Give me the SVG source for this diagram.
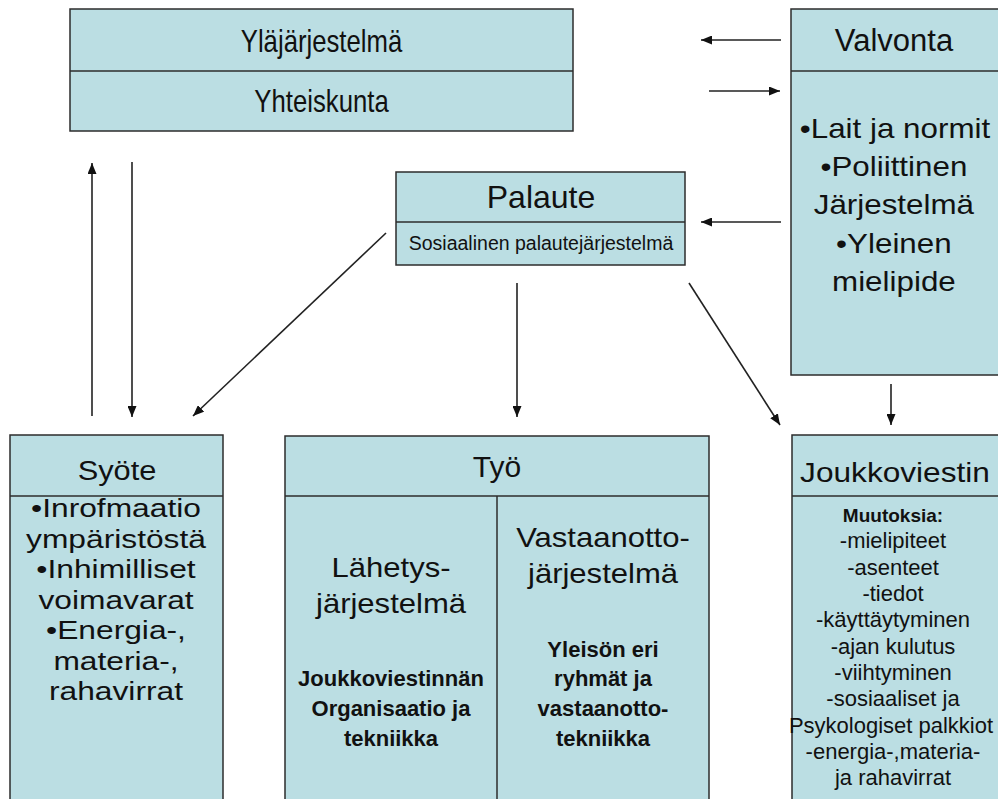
<svg xmlns="http://www.w3.org/2000/svg" width="998" height="799" viewBox="0 0 998 799">
<defs>
<style>
.box{fill:#BBDEE3;stroke:#2d2d2d;stroke-width:1.5}
.div{stroke:#2d2d2d;stroke-width:1.5;fill:none}
text{font-family:"Liberation Sans",Arial,sans-serif;fill:#111;text-anchor:middle}
.b{font-weight:bold}
.conn line{stroke:#222;stroke-width:1.6;marker-end:url(#ah)}
</style>
<marker id="ah" viewBox="0 0 11 9" refX="11" refY="4.5" markerWidth="11" markerHeight="9" markerUnits="userSpaceOnUse" orient="auto">
<path d="M0,0 L11,4.5 L0,9 z" fill="#111"/>
</marker>
</defs>
<rect width="998" height="799" fill="#ffffff"/>

<g id="ylajarjestelma">
<rect class="box" x="70" y="9" width="503" height="122"/>
<line class="div" x1="70" y1="71" x2="573" y2="71"/>
<g transform="translate(321.5,0) scale(0.83,1)" font-size="31">
<text x="0" y="52">Yläjärjestelmä</text>
<text x="0" y="112">Yhteiskunta</text>
</g>
</g>

<g id="valvonta">
<rect class="box" x="791" y="9" width="212" height="366"/>
<line class="div" x1="791" y1="71" x2="1003" y2="71"/>
<text x="894" y="51" font-size="31">Valvonta</text>
<g transform="translate(895,0) scale(1.12,1)" font-size="28">
<text x="0" y="138">•Lait ja normit</text>
<text x="-1" y="176">•Poliittinen</text>
<text x="-1" y="214">Järjestelmä</text>
<text x="-1" y="253">•Yleinen</text>
<text x="-1" y="291">mielipide</text>
</g>
</g>

<g id="palaute">
<rect class="box" x="396" y="172" width="289" height="93"/>
<line class="div" x1="396" y1="222" x2="685" y2="222"/>
<text x="541" y="208" font-size="32">Palaute</text>
<text x="541" y="250" font-size="19.5">Sosiaalinen palautejärjestelmä</text>
</g>

<g id="syote">
<rect class="box" x="10" y="435" width="213" height="380"/>
<line class="div" x1="10" y1="496" x2="223" y2="496"/>
<text transform="translate(117,480) scale(1.1,1)" x="0" y="0" font-size="28">Syöte</text>
<g transform="translate(116,0) scale(1.27,1)" font-size="25">
<text x="0" y="517">•Inrofmaatio</text>
<text x="0" y="548">ympäristöstä</text>
<text x="0" y="578">•Inhimilliset</text>
<text x="0" y="609">voimavarat</text>
<text x="0" y="639">•Energia-,</text>
<text x="0" y="670">materia-,</text>
<text x="0" y="700">rahavirrat</text>
</g>
</g>

<g id="tyo">
<rect class="box" x="285" y="436" width="424" height="380"/>
<line class="div" x1="285" y1="496" x2="709" y2="496"/>
<line class="div" x1="497" y1="496" x2="497" y2="816"/>
<text x="497" y="477" font-size="30">Työ</text>
<g transform="translate(391,0) scale(1.15,1)" font-size="27">
<text x="0" y="577">Lähetys-</text>
<text x="0" y="613">järjestelmä</text>
</g>
<g transform="translate(603,0) scale(1.15,1)" font-size="27">
<text x="0" y="547">Vastaanotto-</text>
<text x="0" y="583">järjestelmä</text>
</g>
<g class="b" font-size="22">
<text x="391" y="686">Joukkoviestinnän</text>
<text x="391" y="716">Organisaatio ja</text>
<text x="391" y="746">tekniikka</text>
<text x="603" y="657">Yleisön eri</text>
<text x="603" y="686">ryhmät ja</text>
<text x="603" y="716">vastaanotto-</text>
<text x="603" y="746">tekniikka</text>
</g>
</g>

<g id="joukkoviestin">
<rect class="box" x="792" y="435" width="211" height="380"/>
<line class="div" x1="792" y1="496" x2="1003" y2="496"/>
<text transform="translate(895,482) scale(1.13,1)" x="0" y="0" font-size="28">Joukkoviestin</text>
<text class="b" x="893" y="522" font-size="19">Muutoksia:</text>
<g font-size="22">
<text x="893" y="548">-mielipiteet</text>
<text x="893" y="575">-asenteet</text>
<text x="893" y="601">-tiedot</text>
<text x="893" y="627">-käyttäytyminen</text>
<text x="893" y="654">-ajan kulutus</text>
<text x="893" y="680">-viihtyminen</text>
<text x="893" y="706">-sosiaaliset ja</text>
<text x="891" y="733">Psykologiset palkkiot</text>
<text x="893" y="759">-energia-,materia-</text>
<text x="893" y="785">ja rahavirrat</text>
</g>
</g>

<g id="connectors" class="conn">
<line x1="781" y1="40" x2="701" y2="40"/>
<line x1="709" y1="91" x2="780" y2="91"/>
<line x1="781" y1="222" x2="701" y2="222"/>
<line x1="92" y1="416" x2="92" y2="163"/>
<line x1="132" y1="162" x2="132" y2="417"/>
<line x1="386" y1="233" x2="193" y2="416"/>
<line x1="517" y1="283" x2="517" y2="417"/>
<line x1="689" y1="283" x2="780" y2="425"/>
<line x1="891" y1="384" x2="891" y2="425"/>
</g>
</svg>
